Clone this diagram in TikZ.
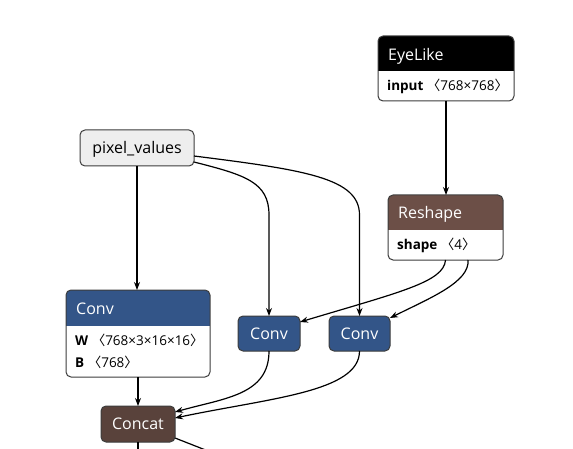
\documentclass[tikz,border=0pt]{standalone}
\usepackage{fontspec}
\setmainfont{Open Sans}
\newfontfamily\cjk{Noto Sans CJK SC}
\usetikzlibrary{arrows.meta}
\definecolor{layerblue}{RGB}{51,85,136}
\definecolor{shapebrown}{RGB}{108,79,71}
\definecolor{tensorbrown}{RGB}{89,66,59}
\definecolor{inputgray}{RGB}{238,238,238}
\definecolor{bordergray}{RGB}{60,60,60}
\tikzset{
 box/.style={draw=bordergray, line width=1pt, rounded corners=5pt, anchor=north west, inner sep=0pt, outer sep=0pt},
 smallbox/.style={box, font=\fontsize{16}{19}\selectfont, text height=11.5pt, text depth=0pt},
 hdrtext/.style={anchor=base west, inner sep=0pt, text=white, font=\fontsize{16}{19}\selectfont},
 attrtext/.style={anchor=base west, inner sep=0pt, font=\fontsize{13.5}{16}\selectfont},
 edge/.style={draw=black, line width=1.2pt, -{Stealth[length=8pt,width=6pt]}},
 plainedge/.style={draw=black, line width=1.2pt},
}
\newcommand\ang[1]{{\cjk 〈}#1{\cjk 〉}}
\begin{document}
\begin{tikzpicture}[x=1pt,y=-1pt]
\useasboundingbox (0,0) rectangle (573,449);
\fill[white] (0,0) rectangle (573,449);

% EyeLike
\begin{scope}
 \clip[rounded corners=5pt] (378,36) rectangle (514,101);
 \fill[black] (378,36) rectangle (514,71);
\end{scope}
\node[box, minimum width=136pt, minimum height=65pt] (eyelike) at (378,36) {};
\node[hdrtext] (eyelikeT) at (388,61) {EyeLike};
\node[attrtext] (eyelikeA) at (387,90.5) {\textbf{input} \ang{768×768}};

% Reshape
\begin{scope}
 \clip[rounded corners=5pt] (388,195) rectangle (503,260);
 \fill[shapebrown] (388,195) rectangle (503,230);
\end{scope}
\node[box, minimum width=115pt, minimum height=65pt] (reshape) at (388,195) {};
\node[hdrtext] (reshapeT) at (398,219) {Reshape};
\node[attrtext] (reshapeA) at (397,250) {\textbf{shape} \ang{4}};

% big Conv
\begin{scope}
 \clip[rounded corners=5pt] (66,290) rectangle (210,377);
 \fill[layerblue] (66,290) rectangle (210,326);
\end{scope}
\node[box, minimum width=144pt, minimum height=87pt] (convbig) at (66,290) {};
\node[hdrtext] (convbigT) at (76,314) {Conv};
\node[attrtext] (convbigW) at (75,345) {\textbf{W} \ang{768×3×16×16}};
\node[attrtext] (convbigB) at (75,367.5) {\textbf{B} \ang{768}};

% simple nodes
\node[smallbox, fill=inputgray, minimum width=114pt, minimum height=36pt] (pv) at (80,130) {pixel\_values};
\node[smallbox, fill=layerblue, text=white, minimum width=62pt, minimum height=35pt] (conv1) at (238,316) {Conv};
\node[smallbox, fill=layerblue, text=white, minimum width=61pt, minimum height=35pt] (conv2) at (329,316) {Conv};
\node[smallbox, fill=tensorbrown, text=white, minimum width=74pt, minimum height=36pt] (concat) at (101,406) {Concat};

% edges
\draw[edge] (pv.south) -- (pv.south |- convbig.north);
\draw[edge] (eyelike.south) -- (eyelike.south |- reshape.north);
\draw[edge] ([yshift=4pt]pv.south east) .. controls (245,175) and (269,182) .. (269,215) -- (conv1.north);
\draw[edge] ([yshift=10pt]pv.south east) .. controls (305,170) and (359.5,178) .. (359.5,215) -- (conv2.north);
\draw[edge] (reshape.south) .. controls (444,282) and (400,292) .. ([yshift=-6pt]conv1.north east);
\draw[edge] ([xshift=22.5pt]reshape.south) .. controls (470,282) and (430,298) .. ([yshift=-2pt]conv2.north east);
\draw[edge] (convbig.south) -- (concat.north);
\draw[edge] (conv1.south) .. controls (269,395) and (225,398) .. ([yshift=-6pt]concat.north east);
\draw[edge] (conv2.south) .. controls (359.5,392) and (270,398) .. ([yshift=-12pt]concat.north east);
\coordinate (below1) at (138,460);
\coordinate (below2) at (231,460);
\draw[plainedge] (concat.south) -- (below1);
\draw[plainedge] ([yshift=4pt]concat.south east) -- (below2);
\end{tikzpicture}
\end{document}
